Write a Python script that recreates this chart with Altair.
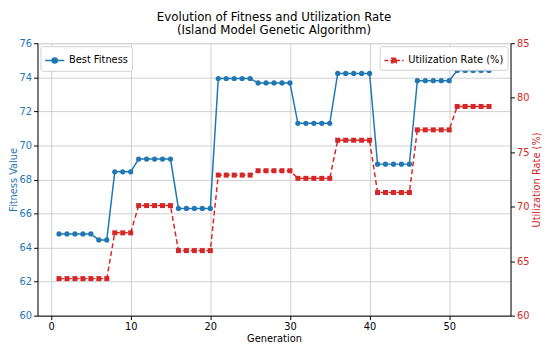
import altair as alt
import pandas as pd

generations = list(range(1, 56))
fitness = [64.8]*5 + [64.45]*2 + [68.45]*3 + [69.2]*5 + [66.3]*5 + [73.93]*5 + [73.67]*5 + \
          [71.3]*5 + [74.23]*5 + [68.9]*5 + [73.8]*5 + [74.4]*5
utilization = [63.4]*7 + [67.6]*3 + [70.1]*5 + [65.97]*5 + [72.9]*5 + [73.3]*5 + \
              [72.6]*5 + [76.1]*5 + [71.3]*5 + [77.05]*5 + [79.2]*5

BLUE = "#1f77b4"
RED = "#d62728"
FONT = "DejaVu Sans"

df = pd.DataFrame({
    "gen": generations,
    "fitness": fitness,
    "util": utilization,
    "s1": "Best Fitness",
    "s2": "Utilization Rate (%)",
})

base = alt.Chart(df)
xenc = alt.X("gen:Q", scale=alt.Scale(domain=[-1.7, 57.7], nice=False, zero=False),
             axis=alt.Axis(title="Generation", values=[0, 10, 20, 30, 40, 50], grid=True,
                           gridColor="#cfcfcf", labelColor="black", titleColor="black",
                           tickColor="black", domainColor="black", labelFontSize=10,
                           titleFontSize=10, titleFontWeight="normal", labelPadding=2,
                           titlePadding=2, tickSize=4))

circle_path = "M-1,0L1,0M-0.27,0A0.27,0.27,0,1,1,0.27,0A0.27,0.27,0,1,1,-0.27,0Z"
square_path = "M-1,0L1,0M-0.24,-0.24L0.24,-0.24L0.24,0.24L-0.24,0.24Z"

yfit = alt.Y("fitness:Q", scale=alt.Scale(domain=[60, 76], nice=False, zero=False),
             axis=alt.Axis(title="Fitness Value", orient="left", values=list(range(60, 77, 2)),
                           grid=True, gridColor="#cfcfcf", labelColor=BLUE, titleColor=BLUE,
                           tickColor="black", domainColor="black", labelFontSize=10,
                           titleFontSize=10, titleFontWeight="normal", labelPadding=2,
                           titlePadding=1, tickSize=4))
fit_line = base.mark_line(strokeWidth=1.5).encode(
    x=xenc, y=yfit,
    color=alt.Color("s1:N", scale=alt.Scale(domain=["Best Fitness"], range=[BLUE]),
                    legend=alt.Legend(title=None, orient="top-left", symbolType=circle_path,
                                      symbolSize=380, symbolStrokeWidth=1.5,
                                      symbolFillColor=BLUE, labelFontSize=10,
                                      strokeColor="#d0d0d0", fillColor="white",
                                      cornerRadius=2, padding=4, offset=3)))
fit_pts = base.mark_point(filled=True, shape="circle", size=28, color=BLUE, opacity=1).encode(
    x=xenc, y=yfit)

yutil = alt.Y("util:Q", scale=alt.Scale(domain=[60, 85], nice=False, zero=False),
              axis=alt.Axis(title="Utilization Rate (%)", orient="right",
                            values=list(range(60, 86, 5)), grid=False, labelColor=RED,
                            titleColor=RED, tickColor="black", domainColor="black",
                            labelFontSize=10, titleFontSize=10, titleFontWeight="normal",
                            labelPadding=2, titlePadding=3, tickSize=4,
                            titleAngle=270, titleBaseline="top"))
util_line = base.mark_line(strokeWidth=1.5, strokeDash=[5, 3]).encode(
    x=xenc, y=yutil,
    color=alt.Color("s2:N", scale=alt.Scale(domain=["Utilization Rate (%)"], range=[RED]),
                    legend=alt.Legend(title=None, orient="top-right", symbolType=square_path,
                                      symbolSize=380, symbolStrokeWidth=1.5,
                                      symbolFillColor=RED, symbolDash=[4, 2],
                                      labelFontSize=10, strokeColor="#d0d0d0",
                                      fillColor="white", cornerRadius=2, padding=4, offset=3)))
util_pts = base.mark_point(filled=True, shape="square", size=26, color=RED, opacity=1).encode(
    x=xenc, y=yutil)

chart = alt.layer(
    alt.layer(fit_line, fit_pts),
    alt.layer(util_line, util_pts),
).resolve_scale(y="independent", color="independent").resolve_legend(
    color="independent"
).properties(
    width=481, height=277, padding={"left": 0, "right": 0, "top": 0, "bottom": 0},
    title=alt.TitleParams(text=["Evolution of Fitness and Utilization Rate",
                                "(Island Model Genetic Algorithm)"],
                          fontSize=12, fontWeight="normal", color="black", offset=1,
                          lineHeight=14, font=FONT),
).configure_view(stroke="black", strokeWidth=1).configure(font=FONT)

chart.save("out.html", embed_options={"renderer": "svg", "actions": False})
